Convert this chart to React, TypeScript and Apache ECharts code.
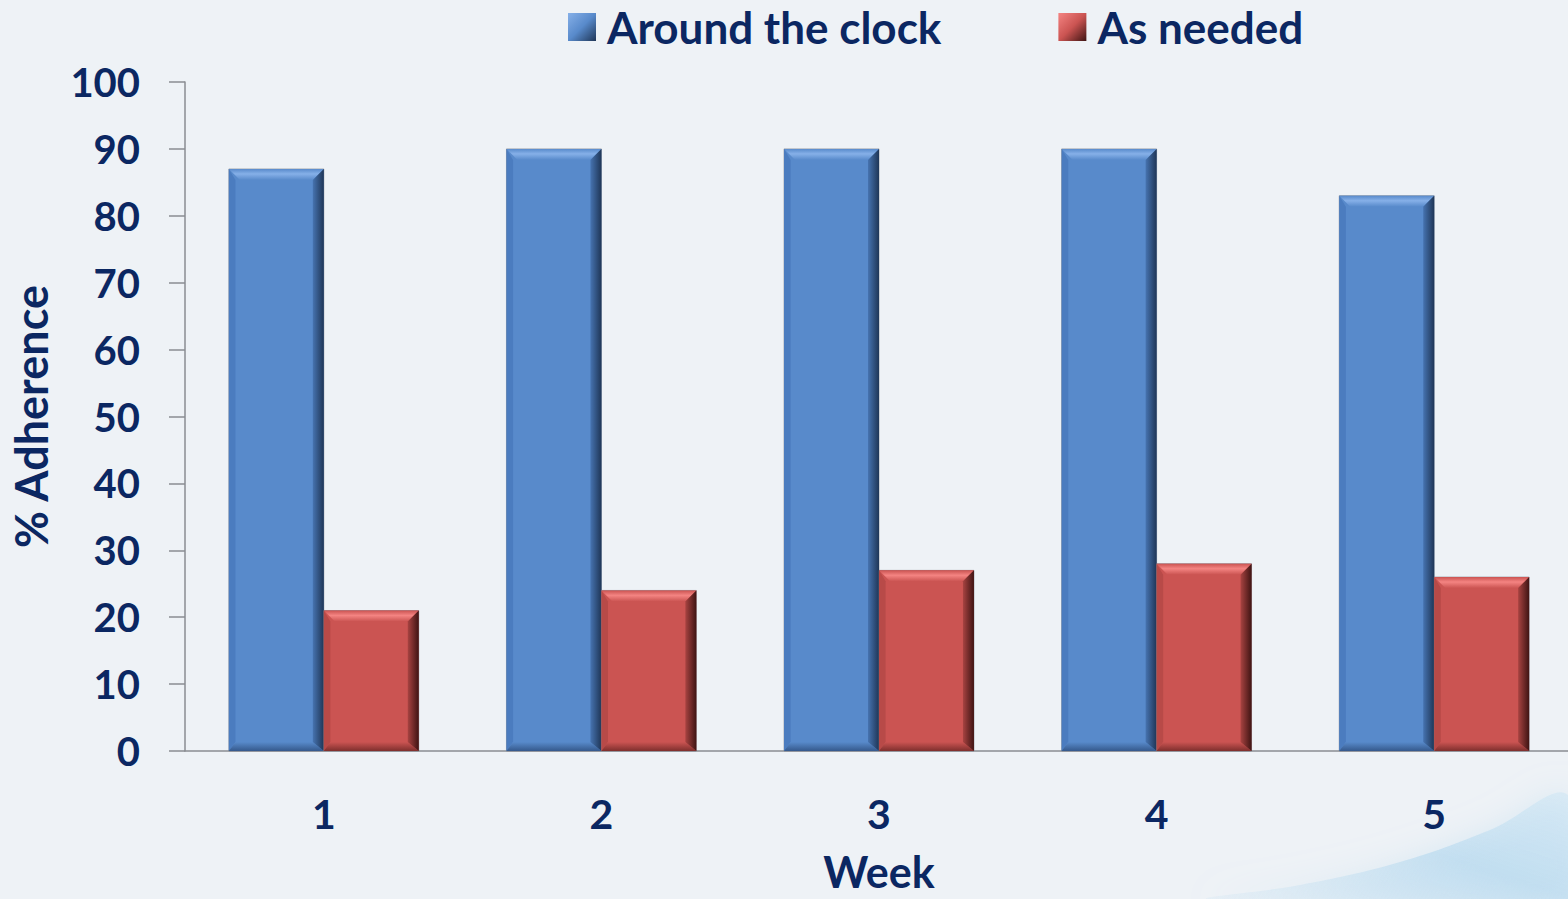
import React, { useEffect, useRef } from "react";
import * as echarts from "echarts";

const weeks = ["1", "2", "3", "4", "5"];
const aroundTheClock = [87, 90, 90, 90, 83];
const asNeeded = [21, 24, 27, 28, 26];
const seriesNames = ["Around the clock", "As needed"];

const NAVY = "#0b2762";
const AXIS_GRAY = "#8a8d92";
const FONT = "Lato, 'Open Sans', sans-serif";

type Palette = {
  fill: string;
  top: string;
  left: string;
  rightOuter: string;
  rightInner: string;
  bottom: string;
};

const bluePalette: Palette = {
  fill: "#588acb",
  top: "#86b0e8",
  left: "#4b7cbf",
  rightOuter: "#1f3657",
  rightInner: "#4673b0",
  bottom: "#35598c",
};

const redPalette: Palette = {
  fill: "#cb5452",
  top: "#f48482",
  left: "#b84a48",
  rightOuter: "#3f1413",
  rightInner: "#a84341",
  bottom: "#7e2f2d",
};

const GAP_RATIO = 0.316;

// Bevelled bar drawn from the axis scales: side 0 sits left of the category centre, side 1 right of it.
function makeRenderItem(side: number, pal: Palette) {
  return (params: any, api: any) => {
    const idx = api.value(0);
    const val = api.value(1);
    const topPt = api.coord([idx, val]);
    const basePt = api.coord([idx, 0]);
    const band = api.size([1, 0])[0];
    const barW = (band * (1 - GAP_RATIO)) / 2;
    const x0 = side === 0 ? topPt[0] - barW : topPt[0];
    const x1 = x0 + barW;
    const y0 = topPt[1];
    const y1 = basePt[1];
    const b = Math.min(11, (y1 - y0) / 2);
    const bb = Math.min(9, (y1 - y0) / 2);
    return {
      type: "group",
      children: [
        {
          type: "rect",
          shape: { x: x0, y: y0, width: barW, height: y1 - y0 },
          style: { fill: pal.fill, stroke: "rgba(110,115,125,0.55)", lineWidth: 1 },
        },
        {
          type: "polygon",
          shape: {
            points: [
              [x0, y0],
              [x1, y0],
              [x1 - b, y0 + b],
              [x0 + b, y0 + b],
            ],
          },
          style: {
            fill: new echarts.graphic.LinearGradient(0, 0, 0, 1, [
              { offset: 0, color: pal.fill },
              { offset: 0.45, color: pal.top },
              { offset: 1, color: pal.fill },
            ]),
          },
        },
        {
          type: "polygon",
          shape: {
            points: [
              [x0, y0],
              [x0 + b * 0.6, y0 + b],
              [x0 + b * 0.6, y1 - bb],
              [x0, y1],
            ],
          },
          style: { fill: pal.left },
        },
        {
          type: "polygon",
          shape: {
            points: [
              [x0, y1],
              [x0 + b * 0.6, y1 - bb],
              [x1 - b, y1 - bb],
              [x1, y1],
            ],
          },
          style: {
            fill: new echarts.graphic.LinearGradient(0, 0, 0, 1, [
              { offset: 0, color: pal.fill },
              { offset: 1, color: pal.bottom },
            ]),
          },
        },
        {
          type: "polygon",
          shape: {
            points: [
              [x1, y0],
              [x1, y1],
              [x1 - b, y1 - bb],
              [x1 - b, y0 + b],
            ],
          },
          style: {
            fill: new echarts.graphic.LinearGradient(1, 0, 0, 0, [
              { offset: 0, color: pal.rightOuter },
              { offset: 1, color: pal.rightInner },
            ]),
          },
        },
      ],
    };
  };
}

function legendIcon(pal: Palette) {
  return new echarts.graphic.LinearGradient(0, 0, 1, 1, [
    { offset: 0, color: pal.top },
    { offset: 0.5, color: pal.fill },
    { offset: 1, color: pal.rightOuter },
  ]);
}

export default function App() {
  const ref = useRef<HTMLDivElement>(null);

  useEffect(() => {
    if (!ref.current) return;
    document.body.style.margin = "0";
    document.body.style.overflow = "hidden";
    const chart = echarts.init(ref.current, undefined, { renderer: "svg" });
    chart.setOption({
      animation: false,
      backgroundColor: "#eef2f6",
      graphic: [
        {
          type: "polygon",
          z: -10,
          silent: true,
          shape: {
            points: [
              [1210, 899],
              [1300, 885],
              [1400, 862],
              [1490, 830],
              [1568, 795],
              [1568, 899],
            ],
            smooth: 0.4,
          },
          style: {
            fill: new echarts.graphic.LinearGradient(0, 1, 1, 0, [
              { offset: 0, color: "rgba(200,226,243,0.15)" },
              { offset: 0.55, color: "rgba(178,215,238,0.6)" },
              { offset: 1, color: "rgba(205,230,245,0.5)" },
            ]),
            shadowBlur: 30,
            shadowColor: "rgba(185,218,240,0.7)",
          },
        },
      ],
      legend: {
        left: 563,
        top: 0,
        itemWidth: 28,
        itemHeight: 28,
        itemGap: 117,
        textStyle: {
          color: NAVY,
          fontFamily: FONT,
          fontWeight: 700,
          fontSize: 44,
          padding: [0, 0, 0, 6],
        },
        data: [
          { name: seriesNames[0], icon: "rect", itemStyle: { color: legendIcon(bluePalette) } },
          { name: seriesNames[1], icon: "rect", itemStyle: { color: legendIcon(redPalette) } },
        ],
      },
      grid: {
        left: 185,
        top: 82,
        width: 1388,
        height: 669,
        containLabel: false,
        outerBoundsMode: "none",
      },
      xAxis: {
        type: "category",
        data: weeks,
        name: "Week",
        nameLocation: "middle",
        nameGap: 120,
        nameTextStyle: {
          color: NAVY,
          fontFamily: FONT,
          fontWeight: 700,
          fontSize: 43,
          lineHeight: 42,
          verticalAlign: "middle",
        },
        axisLine: { lineStyle: { color: AXIS_GRAY, width: 1.5 } },
        axisTick: { alignWithLabel: false, length: 17, lineStyle: { color: AXIS_GRAY, width: 1.5 } },
        axisLabel: {
          color: NAVY,
          fontFamily: FONT,
          fontWeight: 700,
          fontSize: 41,
          margin: 42,
        },
      },
      yAxis: {
        type: "value",
        min: 0,
        max: 100,
        interval: 10,
        name: "% Adherence",
        nameLocation: "middle",
        nameGap: 132,
        nameTextStyle: { color: NAVY, fontFamily: FONT, fontWeight: 700, fontSize: 45 },
        splitLine: { show: false },
        axisLine: { show: true, lineStyle: { color: AXIS_GRAY, width: 1.5 } },
        axisTick: { show: true, length: 16, lineStyle: { color: AXIS_GRAY, width: 1.5 } },
        axisLabel: {
          color: NAVY,
          fontFamily: FONT,
          fontWeight: 700,
          fontSize: 40,
          margin: 45,
        },
      },
      series: [
        {
          name: seriesNames[0],
          type: "custom",
          renderItem: makeRenderItem(0, bluePalette),
          itemStyle: { color: bluePalette.fill },
          encode: { x: 0, y: 1 },
          data: aroundTheClock.map((v, i) => [i, v]),
        },
        {
          name: seriesNames[1],
          type: "custom",
          renderItem: makeRenderItem(1, redPalette),
          itemStyle: { color: redPalette.fill },
          encode: { x: 0, y: 1 },
          data: asNeeded.map((v, i) => [i, v]),
        },
      ],
    });
    return () => chart.dispose();
  }, []);

  return (
    <div
      ref={ref}
      style={{ position: "fixed", left: 0, top: 0, width: 1568, height: 899 }}
    />
  );
}
